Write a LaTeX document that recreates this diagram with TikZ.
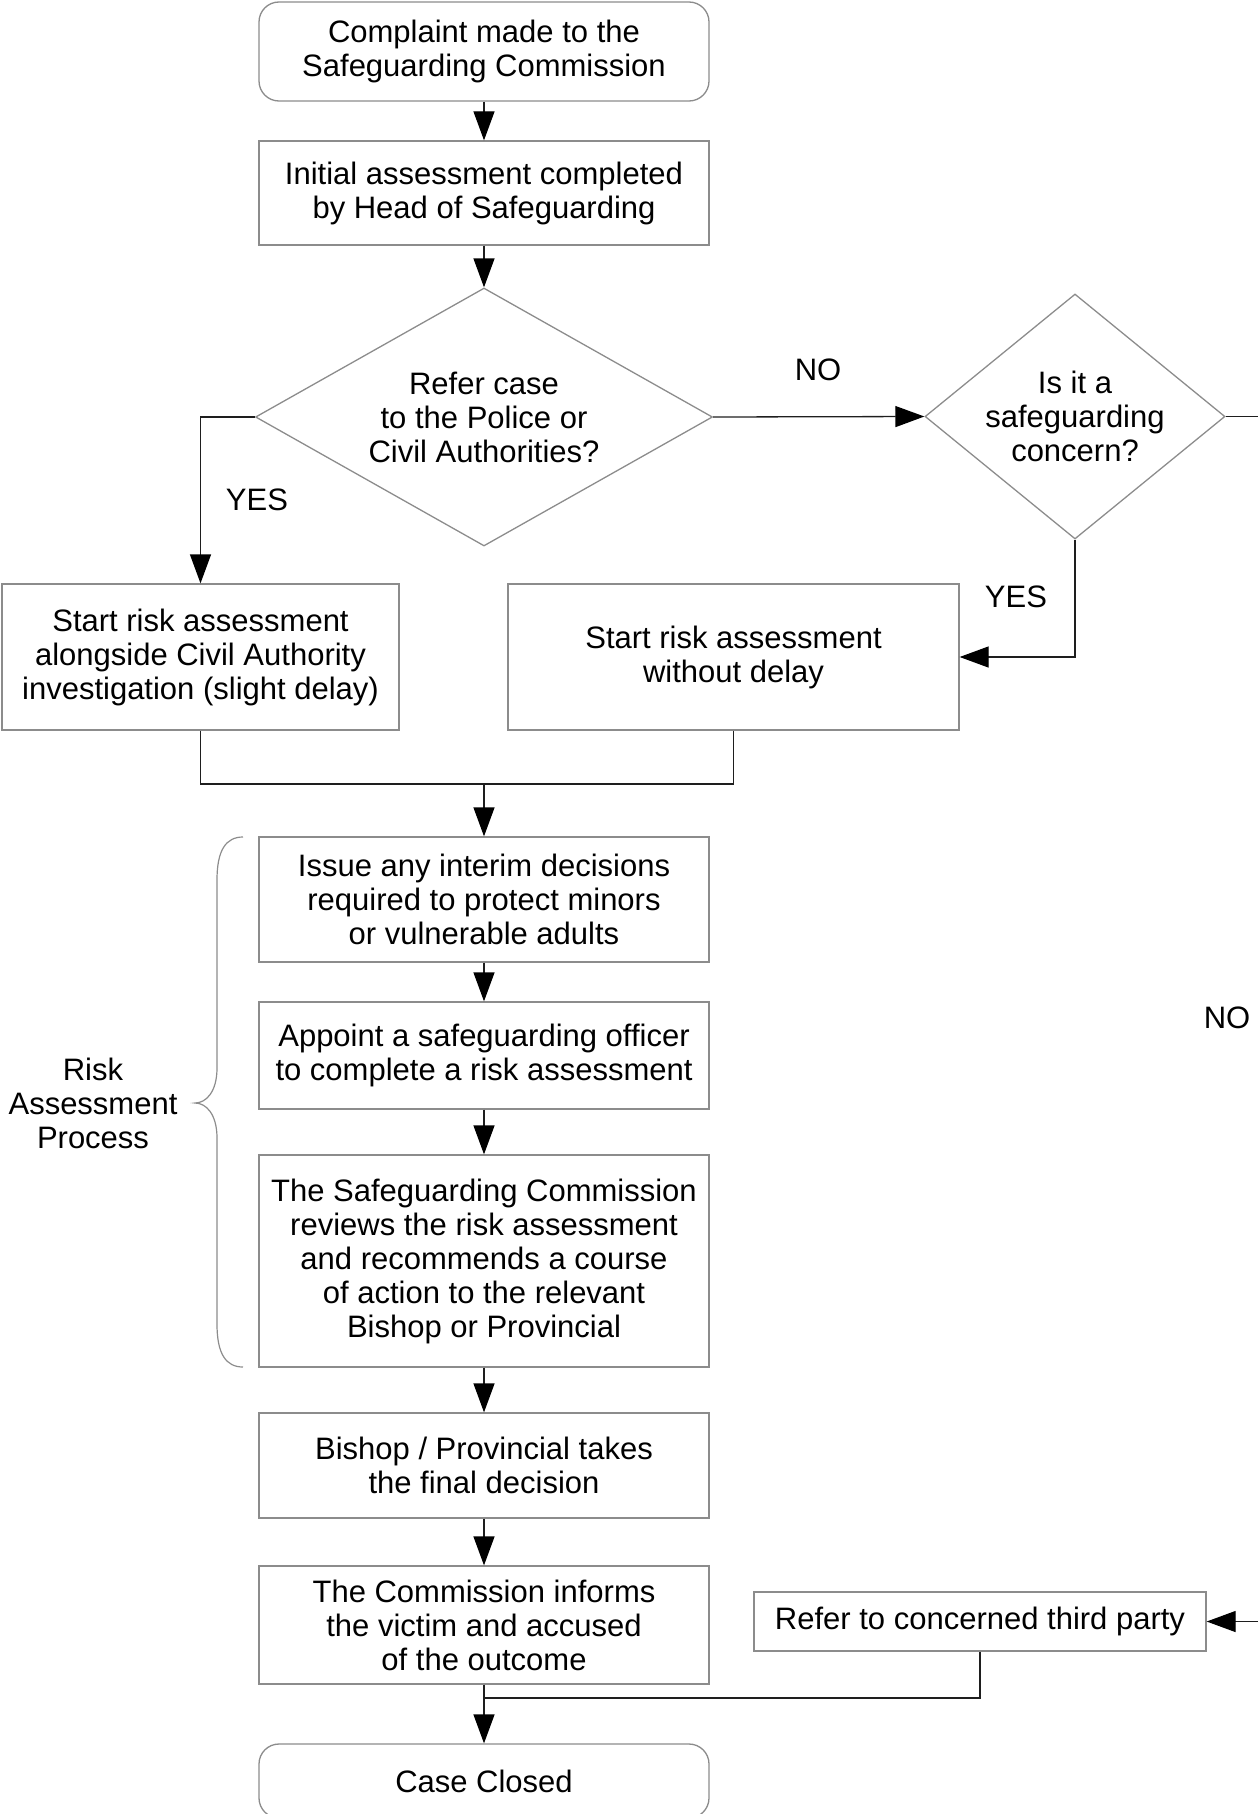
\documentclass[tikz,border=0pt]{standalone}
\usepackage{fontspec}
\setmainfont{Liberation Sans}
\usetikzlibrary{arrows.meta,shapes.geometric}
\definecolor{boxgray}{RGB}{140,140,140}
\definecolor{linegray}{RGB}{30,30,30}
\tikzset{
  x=1pt,y=-1pt,
  every node/.style={font=\fontsize{31}{34}\selectfont, align=center, inner sep=0pt},
  box/.style={draw=boxgray, line width=1.3pt, rectangle, minimum width=450pt, fill=white},
  rbox/.style={box, rounded corners=20pt},
  dia/.style={draw=boxgray, line width=1.3pt, diamond, inner sep=0pt},
  conn/.style={draw=linegray, line width=1.3pt},
  arr/.style={conn, -{Triangle[length=29pt,width=21pt,color=black]}},
  bracestyle/.style={draw=boxgray, line width=1.2pt},
}
\begin{document}
\begin{tikzpicture}
\useasboundingbox (0,0) rectangle (1258,1814);
% nodes
\node[rbox, minimum height=99pt] (start) at (484,51.5) {Complaint made to the\\Safeguarding Commission};
\node[box, minimum height=104pt] (init) at (484,193) {Initial assessment completed\\by Head of Safeguarding};
\node[dia, minimum width=457pt, minimum height=258pt] (d1) at (484,417) {};
\node (d1t) at (d1.center) {Refer case\\to the Police or\\Civil Authorities?};
\node[dia, minimum width=300pt, minimum height=245pt] (d2) at (1075,416.5) {};
\node (d2t) at (d2.center) {Is it a\\safeguarding\\concern?};
\node[box, minimum width=397pt, minimum height=146pt] (boxL) at (200.5,657) {Start risk assessment\\alongside Civil Authority\\investigation (slight delay)};
\node[box, minimum width=451pt, minimum height=146pt] (boxR) at (733.5,657) {Start risk assessment\\without delay};
\node[box, minimum height=125pt] (issue) at (484,899.5) {Issue any interim decisions\\required to protect minors\\or vulnerable adults};
\node[box, minimum height=107pt] (appoint) at (484,1055.5) {Appoint a safeguarding officer\\to complete a risk assessment};
\node[box, minimum height=212pt] (review) at (484,1261) {The Safeguarding Commission\\reviews the risk assessment\\and recommends a course\\of action to the relevant\\Bishop or Provincial};
\node[box, minimum height=105pt] (bishop) at (484,1465.5) {Bishop / Provincial takes\\the final decision};
\node[box, minimum height=118pt] (inform) at (484,1625) {The Commission informs\\the victim and accused\\of the outcome};
\node[box, minimum width=452pt, minimum height=59pt] (refer) at (980,1621.5) {Refer to concerned third party};
\node[rbox, minimum height=74pt] (closed) at (484,1781) {Case Closed};
% labels
\node (noA) at (818,370) {NO};
\node (yesA) at (257,500) {YES};
\node (yesB) at (1016,597) {YES};
\node (noB) at (1227,1018) {NO};
\node (rap) at (93,1103) {Risk\\Assessment\\Process};
% coordinates
\coordinate (eR) at (1258,416.5);
\coordinate (eR2) at (1258,1621.5);
\coordinate (m) at (484,784);
\coordinate (j) at (484,1698);
% connectors
\draw[arr] (start) -- (init);
\draw[arr] (init) -- (d1.north);
\draw[arr] (d1.east) -- (d2.west);
\draw[arr] (d1.west) -| (boxL.north);
\draw[conn] (d2.east) -- (eR);
\draw[arr] (d2.south) |- (boxR.east);
\draw[conn] (boxL.south) |- (m);
\draw[conn] (boxR.south) |- (m);
\draw[arr] (m) -- (issue.north);
\draw[arr] (issue) -- (appoint);
\draw[arr] (appoint) -- (review);
\draw[arr] (review) -- (bishop);
\draw[arr] (bishop) -- (inform);
\draw[arr] (eR2) -- (refer.east);
\draw[conn] (refer.south) |- (j);
\draw[arr] (inform.south) -- (closed.north);
% brace
\draw[bracestyle] (243,837) .. controls (226,837) and (217,850) .. (217,880) -- (217,1068)
  .. controls (217,1092) and (206,1103) .. (195,1103)
  .. controls (206,1103) and (217,1114) .. (217,1138) -- (217,1324)
  .. controls (217,1354) and (226,1367) .. (243,1367);
\end{tikzpicture}
\end{document}
